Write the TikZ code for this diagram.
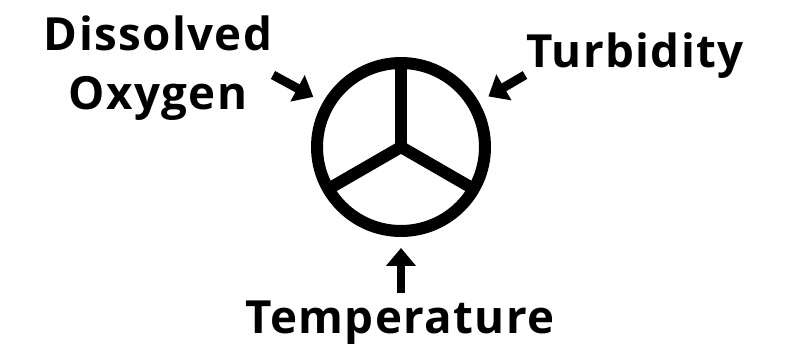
\documentclass[tikz,border=0pt]{standalone}
\usepackage{fontspec}
\setmainfont{Open Sans}[LetterSpace=3]
\usetikzlibrary{arrows.meta}

\begin{document}
\begin{tikzpicture}[
        x={(0.02cm,0)}, y={(0,-0.02cm)},
        lbl/.style={font=\fontsize{26}{34}\selectfont\bfseries, inner sep=0pt, align=center},
        arr/.style={-{Triangle[length=0.36cm, width=0.58cm]}, line width=0.18cm, shorten >=0.34cm}
      ]
      \useasboundingbox (0,0) rectangle (796,346);
      \node[draw, circle, line width=0.24cm, minimum size=3.36cm, outer sep=0pt] (wheel) at (401,147) {};

      \draw[line width=0.24cm] (wheel.center) -- (wheel.90);
      \draw[line width=0.24cm] (wheel.center) -- (wheel.-30);
      \draw[line width=0.24cm] (wheel.center) -- (wheel.210);

      \node[lbl] (oxy) at (158,68) {Dissolved\\Oxygen};
      \node[lbl, anchor=base] (turb) at (635,67) {Turbidity};
      \node[lbl, anchor=base] (temp) at (400,333) {Temperature};

      \coordinate (oxyTail) at (273,75);
      \coordinate (turbTail) at (525,75);
      \coordinate (tempTail) at (401,293);

      \draw[arr] (oxyTail) -- (wheel.150);
      \draw[arr] (turbTail) -- (wheel.30);
      \draw[arr] (tempTail) -- (wheel.south);
    \end{tikzpicture}
\end{document}
